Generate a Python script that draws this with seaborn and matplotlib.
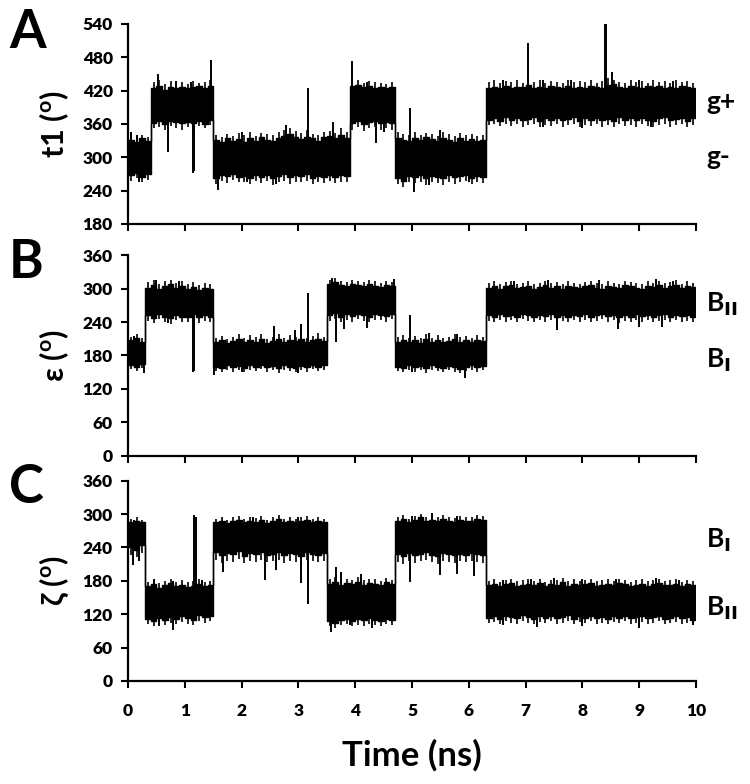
import matplotlib
matplotlib.use("Agg")
import matplotlib.pyplot as plt
import numpy as np
import seaborn as sns

# band envelope, one value per 0.1 ns bin (0-10 ns)
bin_edges = np.round(np.arange(0, 10.01, 0.1), 2)

t1_hi = [332, 328, 335, 330, 424, 428, 422, 426, 425, 427,
         424, 426, 428, 425, 428, 332, 328, 335, 330, 333,
         328, 334, 330, 336, 332, 329, 335, 338, 342, 336,
         333, 337, 334, 330, 336, 338, 335, 340, 334, 428,
         430, 426, 428, 425, 427, 424, 426, 335, 332, 330,
         334, 331, 336, 333, 330, 335, 332, 328, 334, 330,
         333, 329, 331, 425, 426, 424, 428, 425, 427, 426,
         430, 425, 427, 424, 428, 426, 425, 429, 424, 427,
         425, 428, 426, 424, 430, 432, 427, 425, 428, 426,
         424, 428, 426, 429, 425, 427, 424, 428, 426, 425]
t1_lo = [268, 272, 265, 270, 362, 365, 360, 366, 363, 361,
         364, 362, 365, 360, 368, 262, 268, 266, 270, 264,
         267, 263, 269, 265, 268, 262, 266, 270, 264, 268,
         266, 270, 263, 267, 265, 269, 264, 268, 266, 362,
         365, 360, 363, 366, 361, 364, 362, 262, 258, 266,
         264, 268, 263, 267, 265, 262, 268, 264, 266, 269,
         263, 267, 265, 368, 370, 366, 372, 368, 371, 367,
         369, 372, 366, 370, 368, 371, 367, 369, 372, 366,
         370, 368, 371, 367, 369, 366, 372, 368, 370, 367,
         371, 368, 366, 370, 372, 367, 369, 371, 366, 370]
# small excursions beyond the band in each bin
t1_max = [342, 338, 340, 336, 436, 440, 432, 438, 434, 436,
          432, 438, 434, 436, 440, 340, 336, 342, 338, 344,
          340, 345, 338, 344, 342, 340, 346, 350, 352, 348,
          344, 350, 342, 340, 346, 348, 344, 352, 345, 436,
          440, 434, 438, 436, 434, 432, 436, 345, 342, 340,
          346, 340, 344, 342, 338, 345, 342, 338, 344, 340,
          342, 338, 340, 436, 440, 434, 438, 436, 440, 434,
          438, 436, 440, 434, 438, 436, 434, 440, 436, 438,
          436, 440, 434, 438, 442, 440, 436, 434, 440, 436,
          438, 434, 440, 436, 438, 434, 440, 436, 438, 434]
t1_min = [258, 262, 256, 260, 352, 354, 350, 356, 352, 350,
          354, 350, 356, 352, 358, 252, 258, 254, 260, 255,
          256, 252, 258, 254, 257, 250, 255, 258, 252, 256,
          255, 258, 252, 256, 254, 258, 253, 256, 255, 350,
          354, 348, 352, 355, 350, 352, 350, 252, 246, 255,
          254, 256, 250, 256, 254, 250, 256, 252, 255, 258,
          252, 256, 254, 358, 360, 356, 360, 356, 360, 355,
          358, 360, 354, 358, 356, 360, 355, 358, 360, 354,
          358, 356, 360, 355, 358, 354, 360, 356, 358, 355,
          360, 356, 354, 358, 360, 355, 358, 360, 354, 358]
t1_spike_t = [0.05, 0.15, 0.52, 0.85, 1.10, 1.46, 2.00, 2.79, 3.16, 3.61,
              3.95, 4.20, 4.96, 5.50, 6.60, 7.05, 7.30, 7.80, 8.40, 8.42,
              8.52, 9.00, 9.60,
              0.20, 0.70, 1.15, 1.17, 1.59, 2.10, 2.60, 4.36, 4.50, 5.04,
              5.30, 6.00, 7.30, 8.00, 9.20]
t1_spike_v = [345, 340, 450, 438, 435, 475, 345, 358, 425, 364,
              473, 435, 388, 350, 440, 505, 440, 440, 551, 548,
              454, 440, 438,
              255, 310, 272, 275, 241, 255, 252, 326, 345, 238,
              250, 255, 355, 352, 355]

eps_hi = [208, 212, 205, 302, 306, 300, 304, 308, 302, 305,
          300, 303, 298, 302, 300, 205, 208, 203, 206, 210,
          204, 207, 205, 209, 203, 206, 210, 205, 208, 206,
          209, 204, 207, 210, 206, 308, 312, 306, 305, 309,
          306, 304, 308, 305, 303, 306, 304, 205, 208, 204,
          207, 203, 209, 205, 208, 204, 206, 210, 205, 207,
          204, 208, 206, 302, 305, 300, 304, 306, 301, 303,
          305, 300, 303, 306, 302, 304, 300, 305, 303, 301,
          304, 306, 302, 300, 305, 303, 301, 306, 304, 302,
          300, 305, 303, 306, 302, 304, 307, 301, 305, 303]
eps_lo = [163, 160, 165, 252, 248, 255, 250, 247, 253, 250,
          250, 254, 249, 252, 250, 160, 158, 162, 159, 161,
          158, 162, 160, 163, 159, 161, 157, 162, 160, 158,
          161, 159, 163, 160, 162, 252, 256, 250, 254, 251,
          255, 252, 250, 254, 253, 251, 255, 160, 158, 162,
          159, 161, 157, 162, 160, 158, 161, 159, 156, 160,
          162, 159, 161, 252, 250, 254, 251, 253, 250, 255,
          252, 250, 253, 251, 254, 249, 252, 250, 253, 251,
          254, 250, 252, 255, 251, 253, 249, 252, 250, 254,
          251, 253, 250, 252, 254, 250, 253, 251, 252, 250]
eps_max = [214, 218, 212, 312, 316, 308, 314, 316, 310, 314,
           308, 312, 306, 310, 308, 212, 215, 210, 214, 218,
           212, 216, 213, 218, 210, 214, 219, 212, 216, 214,
           218, 212, 215, 220, 214, 316, 320, 314, 312, 316,
           314, 312, 316, 313, 310, 314, 312, 213, 216, 212,
           215, 211, 218, 212, 216, 212, 214, 218, 213, 215,
           212, 216, 214, 310, 313, 308, 312, 314, 309, 311,
           313, 308, 311, 314, 310, 312, 308, 313, 311, 309,
           312, 314, 310, 308, 313, 311, 309, 314, 312, 310,
           308, 313, 311, 314, 310, 312, 315, 309, 313, 311]
eps_min = [155, 152, 157, 242, 238, 245, 240, 236, 243, 240,
           240, 244, 238, 242, 240, 152, 150, 154, 150, 153,
           150, 154, 152, 155, 150, 153, 149, 154, 152, 150,
           153, 150, 155, 152, 154, 242, 246, 240, 244, 241,
           245, 242, 240, 244, 243, 241, 245, 152, 150, 154,
           151, 153, 149, 154, 152, 150, 153, 151, 148, 152,
           154, 151, 153, 242, 240, 244, 241, 243, 240, 245,
           242, 240, 243, 241, 244, 239, 242, 240, 243, 241,
           244, 240, 242, 245, 241, 243, 239, 242, 240, 244,
           241, 243, 240, 242, 244, 240, 243, 241, 242, 240]
eps_spike_t = [0.10, 0.50, 0.90, 2.57, 2.94, 3.05, 3.16, 3.60, 4.69, 4.96,
               5.30, 5.80, 6.80, 7.40, 8.30, 9.30, 9.60,
               0.28, 0.70, 1.15, 1.17, 1.52, 2.00, 3.00, 3.66, 3.80, 4.20,
               5.00, 5.93, 7.56, 8.63, 9.00, 9.40]
eps_spike_v = [215, 316, 314, 233, 226, 236, 293, 320, 318, 253,
               220, 218, 314, 316, 315, 317, 314,
               148, 238, 150, 152, 145, 150, 148, 205, 228, 230,
               150, 139, 226, 228, 232, 232]

zeta_hi = [286, 288, 285, 170, 174, 168, 172, 176, 170, 173,
           169, 171, 175, 170, 172, 286, 288, 284, 287, 290,
           285, 288, 286, 289, 284, 287, 291, 286, 288, 285,
           287, 290, 286, 288, 285, 175, 178, 172, 176, 174,
           178, 173, 176, 175, 172, 177, 174, 288, 291, 286,
           289, 294, 288, 290, 287, 292, 288, 286, 290, 288,
           287, 291, 289, 172, 175, 170, 174, 176, 171, 173,
           175, 172, 176, 170, 174, 173, 177, 171, 175, 172,
           174, 176, 171, 173, 175, 172, 176, 174, 170, 173,
           175, 171, 174, 176, 172, 173, 175, 170, 174, 172]
zeta_lo = [240, 236, 244, 112, 108, 114, 110, 115, 112, 116,
           113, 110, 118, 115, 117, 232, 226, 230, 228, 234,
           225, 230, 228, 232, 227, 229, 231, 226, 230, 228,
           225, 231, 229, 227, 230, 108, 105, 110, 112, 108,
           111, 109, 113, 110, 108, 112, 110, 228, 225, 230,
           226, 229, 231, 227, 225, 230, 228, 226, 229, 227,
           230, 228, 226, 114, 116, 112, 117, 115, 113, 118,
           115, 112, 116, 114, 117, 113, 115, 118, 112, 116,
           114, 117, 113, 115, 112, 116, 114, 117, 113, 115,
           116, 113, 115, 117, 112, 114, 116, 113, 115, 110]
zeta_max = [292, 294, 290, 178, 182, 176, 180, 184, 178, 181,
            177, 179, 183, 178, 180, 292, 295, 290, 294, 297,
            292, 295, 293, 296, 290, 294, 298, 292, 295, 292,
            294, 297, 292, 295, 292, 183, 186, 180, 184, 182,
            186, 181, 184, 183, 180, 185, 182, 295, 298, 292,
            296, 300, 295, 297, 294, 299, 295, 293, 297, 295,
            294, 298, 296, 180, 183, 178, 182, 184, 179, 181,
            183, 180, 184, 178, 182, 181, 185, 179, 183, 180,
            182, 184, 179, 181, 183, 180, 184, 182, 178, 181,
            183, 179, 182, 184, 180, 181, 183, 178, 182, 180]
zeta_min = [226, 222, 230, 102, 98, 104, 100, 105, 102, 106,
            103, 100, 108, 105, 107, 218, 212, 216, 214, 220,
            212, 216, 214, 218, 213, 215, 217, 212, 216, 214,
            212, 217, 215, 213, 216, 98, 95, 100, 102, 98,
            101, 99, 103, 100, 98, 102, 100, 214, 211, 216,
            212, 215, 217, 213, 211, 216, 214, 212, 215, 213,
            216, 214, 212, 104, 106, 102, 107, 105, 103, 108,
            105, 102, 106, 104, 107, 103, 105, 108, 102, 106,
            104, 107, 103, 105, 102, 106, 104, 107, 103, 105,
            106, 103, 105, 107, 102, 104, 106, 103, 105, 100]
zeta_spike_t = [0.10, 0.45, 0.80, 1.17, 1.19, 1.30, 2.20, 3.00, 3.66, 3.75,
                4.10, 5.00, 5.35, 5.80, 6.60, 7.10, 7.50, 8.00, 8.60, 9.30, 9.70,
                0.09, 0.20, 0.55, 0.79, 1.67, 2.41, 2.60, 3.05, 3.16, 3.57,
                3.90, 4.30, 4.96, 5.50, 5.80, 6.10, 6.60, 7.20, 8.00, 9.00, 9.95]
zeta_spike_v = [290, 184, 180, 298, 295, 182, 295, 294, 204, 195,
                192, 296, 302, 296, 182, 184, 185, 183, 184, 185, 182,
                208, 215, 98, 92, 196, 181, 200, 176, 139, 88,
                100, 95, 178, 190, 192, 188, 100, 97, 98, 96, 100]

panels = ["A", "B", "C"]
ylabels = ["t1 ($^\\mathregular{o}$)", "\u03b5 ($^\\mathregular{o}$)", "\u03b6 ($^\\mathregular{o}$)"]
ylims = [(180, 540), (0, 360), (0, 360)]
state_labels = [[("g+", 400), ("g-", 300)],
                [("B$_{\\mathbf{II}}$", 272), ("B$_{\\mathbf{I}}$", 172)],
                [("B$_{\\mathbf{I}}$", 253), ("B$_{\\mathbf{II}}$", 131)]]
traces = [(t1_hi, t1_lo, t1_max, t1_min, t1_spike_t, t1_spike_v),
          (eps_hi, eps_lo, eps_max, eps_min, eps_spike_t, eps_spike_v),
          (zeta_hi, zeta_lo, zeta_max, zeta_min, zeta_spike_t, zeta_spike_v)]

sns.set_style("ticks")
plt.rcParams["font.family"] = ["Lato", "DejaVu Sans"]
plt.rcParams["font.weight"] = "bold"
plt.rcParams["mathtext.default"] = "regular"
plt.rcParams["text.color"] = "black"
plt.rcParams["axes.labelcolor"] = "black"
plt.rcParams["xtick.color"] = "black"
plt.rcParams["ytick.color"] = "black"


def draw_trace(ax, hi, lo, mx, mn, sp_t, sp_v):
    hi_s = list(hi) + [hi[-1]]
    lo_s = list(lo) + [lo[-1]]
    ax.fill_between(bin_edges, lo_s, hi_s, step="post", color="black", lw=0)
    sns.lineplot(x=bin_edges, y=hi_s, ax=ax, color="black", lw=1,
                 drawstyle="steps-post", estimator=None)
    sns.lineplot(x=bin_edges, y=lo_s, ax=ax, color="black", lw=1,
                 drawstyle="steps-post", estimator=None)
    centers = bin_edges[:-1] + 0.05
    ax.vlines(centers, hi, mx, color="black", lw=1.2)
    ax.vlines(centers, mn, lo, color="black", lw=1.2)
    idx = np.minimum((np.array(sp_t) / 0.1).astype(int), 99)
    mid = (np.array(hi)[idx] + np.array(lo)[idx]) / 2
    ax.vlines(sp_t, mid, sp_v, color="black", lw=1.4)


fig = plt.figure(figsize=(7.5, 7.84), dpi=100)
boxes = [(0.1707, 0.7143, 0.7573, 0.2551),
         (0.1707, 0.4188, 0.7573, 0.2556),
         (0.1707, 0.1314, 0.7573, 0.2555)]
letter_y = [0.958, 0.665, 0.378]

for i in range(3):
    ax = fig.add_axes(boxes[i])
    draw_trace(ax, *traces[i])
    ax.set_xlim(0, 10)
    ax.set_ylim(*ylims[i])
    ax.set_xticks(range(0, 11))
    ax.set_yticks(np.arange(ylims[i][0], ylims[i][1] + 1, 60))
    for s in ["top", "right"]:
        ax.spines[s].set_visible(False)
    for s in ["left", "bottom"]:
        ax.spines[s].set_linewidth(1.6)
        ax.spines[s].set_color("black")
    ax.tick_params(axis="both", direction="out", length=5, width=1.5,
                   labelsize=12.5, colors="black")
    ax.tick_params(axis="y", pad=6)
    ax.tick_params(axis="x", pad=11)
    for lab in ax.get_yticklabels():
        lab.set_fontweight("heavy")
    if i < 2:
        ax.set_xticklabels([])
        ax.set_xlabel("")
    else:
        for lab in ax.get_xticklabels():
            lab.set_fontweight("heavy")
        ax.set_xlabel("Time (ns)", fontsize=25, fontweight="bold", labelpad=14)
    ax.set_ylabel(ylabels[i], fontsize=22, fontweight="bold")
    ax.yaxis.set_label_coords(-0.10, 0.5)
    for txt, yv in state_labels[i]:
        ax.text(10.18, yv, txt, fontsize=19, fontweight="bold",
                va="center", ha="left", clip_on=False)
    fig.text(0.012, letter_y[i], panels[i], fontsize=38, fontweight="bold",
             va="center", ha="left")

fig.savefig("out.png", dpi=100)
